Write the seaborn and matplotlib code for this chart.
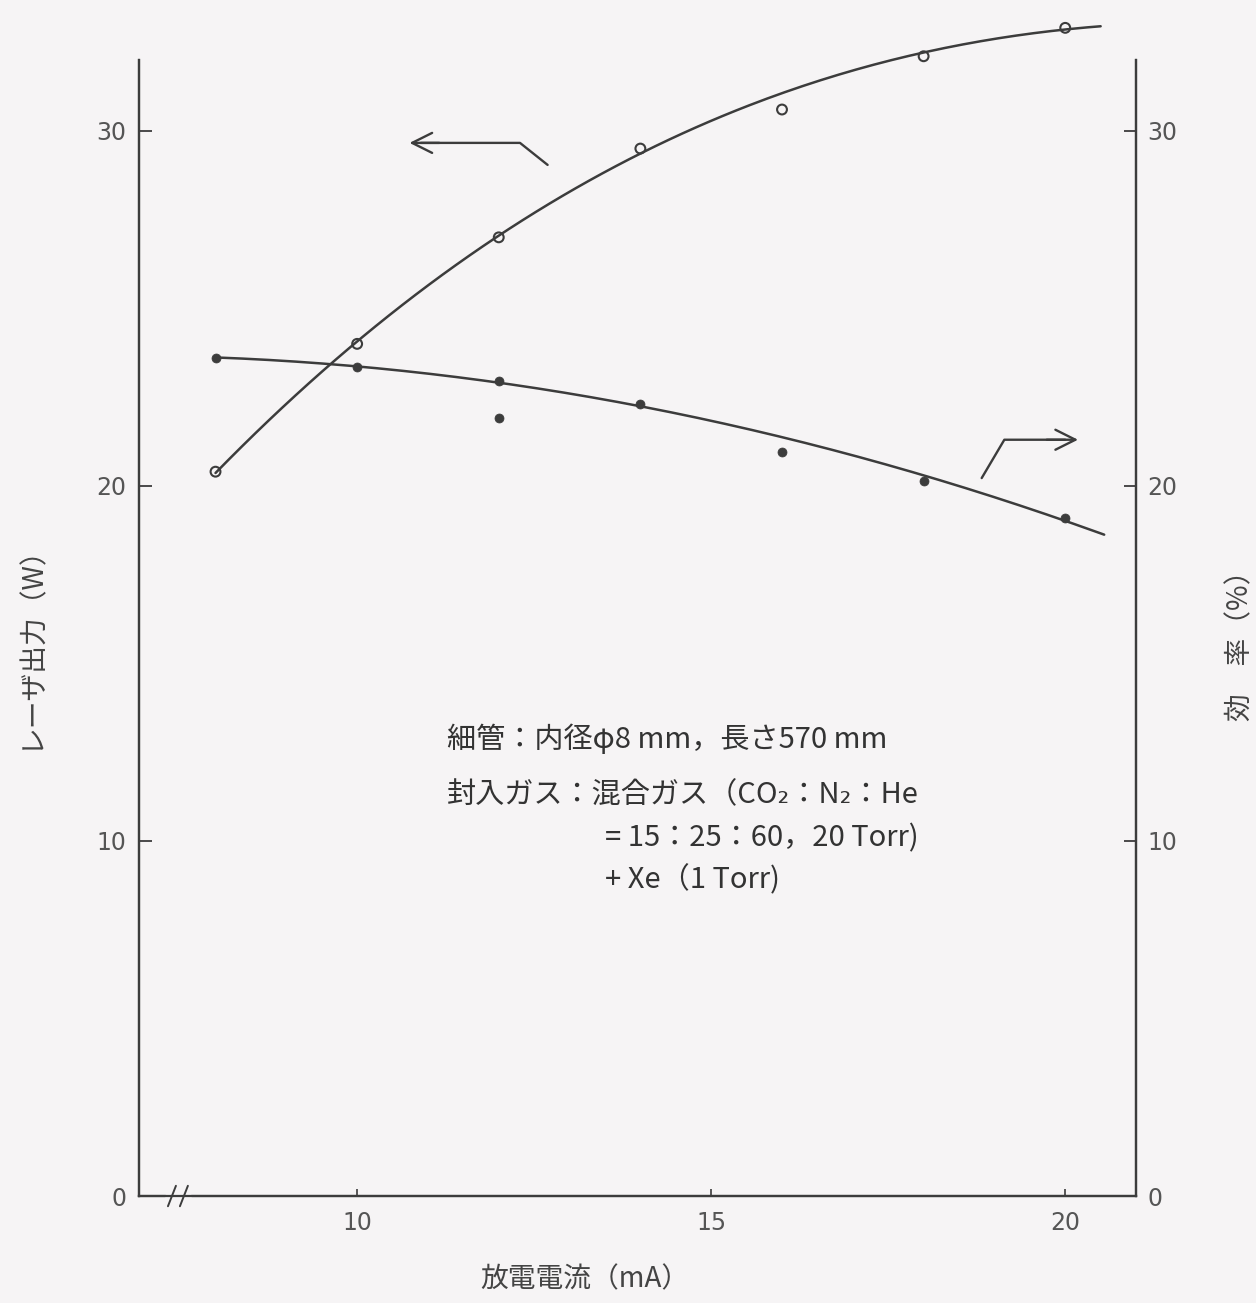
import numpy as np
import pandas as pd
import matplotlib
matplotlib.use("Agg")
import matplotlib.pyplot as plt
import seaborn as sns

# discharge current (mA) vs laser output (W) - open circles, left axis
current_ma = [8, 10, 12, 14, 16, 18, 20]
output_w = [20.4, 24.0, 27.0, 29.5, 30.6, 32.1, 32.9]
output_on_curve = [1, 1, 1, 1, 0.05, 1, 1]

# discharge current (mA) vs efficiency (%) - filled dots, right axis
eff_current_ma = [8, 10, 12, 12, 14, 16, 18, 20]
efficiency_pct = [23.6, 23.35, 22.95, 21.9, 22.3, 20.95, 20.15, 19.1]
eff_on_curve = [1, 1, 1, 0.05, 1, 0.1, 1, 1]

x_ticks = [10, 15, 20]
y_ticks = [0, 10, 20, 30]

note_lines = [
    "細管：内径φ8 mm，長さ570 mm",
    "封入ガス：混合ガス（CO₂：N₂：He",
    "= 15：25：60，20 Torr)",
    "+ Xe（1 Torr)",
]

BG = "#f6f4f5"
INK = "#3c3c3c"
FONTS = ["Noto Sans CJK JP", "DejaVu Sans"]

sns.set_theme(style="ticks")
plt.rcParams["font.family"] = FONTS
plt.rcParams["axes.unicode_minus"] = False

df_out = pd.DataFrame({"current": current_ma, "output": output_w})
df_eff = pd.DataFrame({"current": eff_current_ma, "eff": efficiency_pct})

# smooth hand-drawn style curves: weighted polynomial fits of the measured points
xf_out = np.linspace(8, 20.5, 200)
p_out = np.poly1d(np.polyfit(current_ma, output_w, 3, w=output_on_curve))
fit_out = pd.DataFrame({"current": xf_out, "output": p_out(xf_out)})
xf_eff = np.linspace(8, 20.55, 200)
p_eff = np.poly1d(np.polyfit(eff_current_ma, efficiency_pct, 2, w=eff_on_curve))
fit_eff = pd.DataFrame({"current": xf_eff, "eff": p_eff(xf_eff)})

fig = plt.figure(figsize=(12.56, 13.03), dpi=100, facecolor=BG)
ax = fig.add_axes([0.1107, 0.0821, 0.7938, 0.8720])
ax.set_facecolor(BG)
ax2 = ax.twinx()

sns.lineplot(data=fit_out, x="current", y="output", ax=ax, color=INK, linewidth=1.8)
sns.scatterplot(data=df_out, x="current", y="output", ax=ax, marker="o", s=50,
                facecolor="none", edgecolor=INK, linewidth=1.5, zorder=5)
sns.lineplot(data=fit_eff, x="current", y="eff", ax=ax2, color=INK, linewidth=1.8)
sns.scatterplot(data=df_eff, x="current", y="eff", ax=ax2, marker="o", s=42,
                color=INK, edgecolor=INK, zorder=5)

for a in (ax, ax2):
    for art in a.lines + a.collections:
        art.set_clip_on(False)
    a.set_xlim(6.92, 21.0)
    a.set_ylim(0, 32.0)
    a.set_yticks(y_ticks)
    a.spines["top"].set_visible(False)
    for s in ("left", "right", "bottom"):
        a.spines[s].set_color(INK)
        a.spines[s].set_linewidth(1.6)

ax.set_xticks(x_ticks)
ax.tick_params(axis="x", direction="in", length=5, width=1.2, pad=11,
               labelsize=17, labelcolor="#555555", color=INK)
ax.tick_params(axis="y", direction="in", length=9, width=1.3, pad=9,
               labelsize=17, labelcolor="#555555", color=INK)
ax2.tick_params(axis="y", direction="in", length=9, width=1.3, pad=8,
                labelsize=17, labelcolor="#555555", color=INK)
for lab in ax.get_xticklabels() + ax.get_yticklabels() + ax2.get_yticklabels():
    lab.set_family("DejaVu Sans")

ax.set_xlabel("放電電流（mA）", fontsize=20, color="#444444")
ax.xaxis.set_label_coords(0.447, -0.060)
ax.set_ylabel("レーザ出力（W）", fontsize=20, color="#444444")
ax.yaxis.set_label_coords(-0.094, 0.49)
ax2.set_ylabel("効　率（%）", fontsize=20, color="#444444", rotation=90)
ax2.yaxis.set_label_coords(1.090, 0.49)

# axis break mark near the origin
ax.plot([0.029, 0.049], [0, 0], transform=ax.transAxes, color=BG, linewidth=5,
        clip_on=False, zorder=10)
for xb in (0.033, 0.045):
    ax.plot([xb - 0.004, xb + 0.004], [-0.009, 0.009], transform=ax.transAxes,
            color=INK, linewidth=1.4, clip_on=False, zorder=11)

# pointer arrows: upper curve -> left axis, lower curve -> right axis
arrow_style = "->,head_length=1.2,head_width=0.6"
ax.plot([12.69, 12.30, 10.9], [29.04, 29.66, 29.66], color=INK, linewidth=1.7)
ax.annotate("", xy=(10.70, 29.66), xytext=(11.2, 29.66),
            arrowprops=dict(arrowstyle=arrow_style, color=INK, linewidth=1.7))
ax.plot([18.82, 19.14, 20.0], [20.22, 21.3, 21.3], color=INK, linewidth=1.7)
ax.annotate("", xy=(20.22, 21.3), xytext=(19.7, 21.3),
            arrowprops=dict(arrowstyle=arrow_style, color=INK, linewidth=1.7))

# gas / tube condition note
note_pos = [(11.27, 12.85), (11.27, 11.3), (13.5, 10.08), (13.5, 8.9)]
for (tx, ty), line in zip(note_pos, note_lines):
    ax.text(tx, ty, line, fontsize=21, color="#333333", va="center", ha="left",
            family=FONTS)

fig.savefig("out.png", dpi=100, facecolor=BG)
